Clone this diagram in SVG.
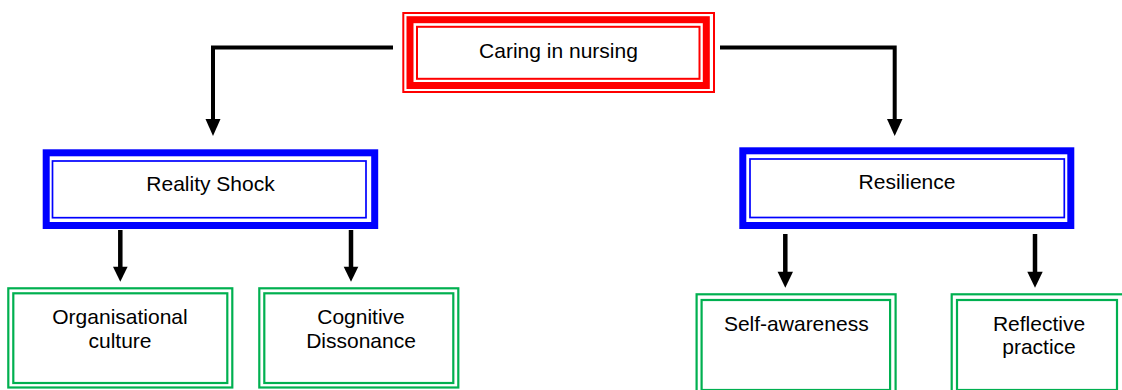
<svg xmlns="http://www.w3.org/2000/svg" width="1122" height="390" viewBox="0 0 1122 390">
<style>
text{font-family:"Liberation Sans",Arial,sans-serif;font-size:21px;fill:#000;text-anchor:middle}
.r{fill:none;stroke:#ff0000}
.b{fill:none;stroke:#0000ff}
.g{fill:none;stroke:#00b050;stroke-width:2.2}
.c{fill:none;stroke:#000;stroke-width:4}
.h{fill:#000}
</style>
<rect width="1122" height="390" fill="#fff"/>
<g id="connectors">
<path class="c" d="M393,47.5 H213 V120"/>
<polygon class="h" points="205.5,119 220.5,119 213,136"/>
<path class="c" d="M720,47.5 H894.7 V120"/>
<polygon class="h" points="887,119 902.5,119 894.7,136"/>
<path class="c" d="M120.3,230 V268" style="stroke-width:4.5"/>
<polygon class="h" points="113,266.7 127.6,266.7 120.3,281.7"/>
<path class="c" d="M351,230 V268" style="stroke-width:4.5"/>
<polygon class="h" points="343.7,266.7 358.3,266.7 351,281.7"/>
<path class="c" d="M785.3,234 V273" style="stroke-width:4.5"/>
<polygon class="h" points="777.6,271.7 793,271.7 785.3,287.7"/>
<path class="c" d="M1035,234 V273" style="stroke-width:4.5"/>
<polygon class="h" points="1027.3,271.7 1042.7,271.7 1035,287.7"/>
</g>
<g id="caring">
<rect class="r" x="403.3" y="13" width="310.7" height="79" style="stroke-width:2"/>
<rect class="r" x="410" y="19.7" width="296.3" height="65.8" style="stroke-width:7"/>
<rect class="r" x="417" y="26.8" width="282.5" height="52" style="stroke-width:2"/>
<text x="558.5" y="58">Caring in nursing</text>
</g>
<g id="reality">
<rect class="b" x="46.2" y="152.8" width="328.5" height="72.7" style="stroke-width:7"/>
<rect class="b" x="52.5" y="161" width="313.5" height="56.7" style="stroke-width:1.7"/>
<text x="210.5" y="190.7">Reality Shock</text>
</g>
<g id="resilience">
<rect class="b" x="742.8" y="150.8" width="328" height="74.7" style="stroke-width:7"/>
<rect class="b" x="750" y="159" width="314.3" height="58.5" style="stroke-width:1.7"/>
<text x="907" y="189">Resilience</text>
</g>
<g id="organisational">
<rect class="g" x="8.3" y="288.3" width="224" height="99.2"/>
<rect class="g" x="13.3" y="293.3" width="214" height="89.7"/>
<text x="120" y="324">Organisational</text>
<text x="120" y="348.3">culture</text>
</g>
<g id="cognitive">
<rect class="g" x="259.3" y="288.3" width="199" height="99.2"/>
<rect class="g" x="264.3" y="293.3" width="189" height="89.7"/>
<text x="361" y="324">Cognitive</text>
<text x="361" y="348.3">Dissonance</text>
</g>
<g id="selfawareness">
<rect class="g" x="696.6" y="294.3" width="199" height="100"/>
<rect class="g" x="701.6" y="300" width="188.5" height="90"/>
<text x="796.3" y="330.7">Self-awareness</text>
</g>
<g id="reflective">
<rect class="g" x="951.7" y="294.3" width="175" height="100"/>
<rect class="g" x="957" y="300" width="160" height="90"/>
<text x="1039" y="330.7">Reflective</text>
<text x="1039" y="354">practice</text>
</g>
</svg>
